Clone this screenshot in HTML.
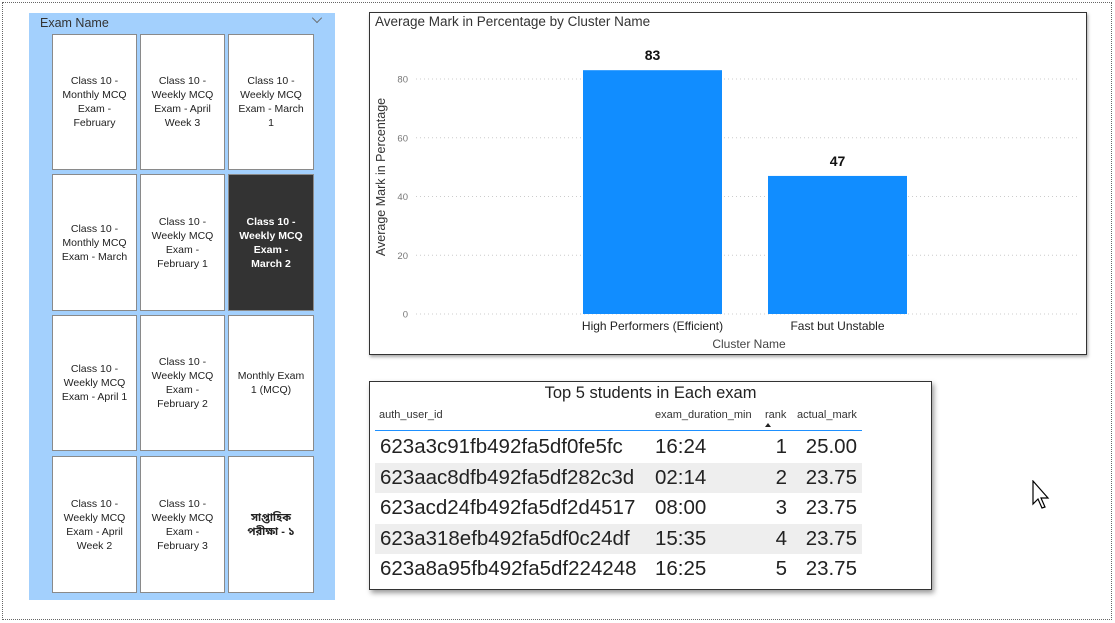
<!DOCTYPE html>
<html><head><meta charset="utf-8"><style>
*{box-sizing:border-box;margin:0;padding:0}
body{width:1115px;height:623px;background:#fff;position:relative;overflow:hidden;font-family:"Liberation Sans",sans-serif}
.abs{position:absolute}
.tile{position:absolute;background:#fff;border:1px solid #8a8a8a;display:flex;align-items:center;justify-content:center;text-align:center;font-size:10.5px;line-height:14px;color:#222;padding:0 8px}
.tile.sel{background:#333;color:#fff;font-weight:bold}
.row{position:absolute;left:375px;width:487px;height:30px;font-size:20.5px;color:#222}
.row span{position:absolute;top:3px}
</style></head><body>
<div class="abs" style="left:2px;top:2px;width:1110px;height:618px;border:1px dotted #666"></div>

<div class="abs" style="left:29px;top:13px;width:306px;height:587px;background:#a3d0fd"></div>
<div class="abs" style="left:40px;top:16px;font-size:12.5px;color:#333">Exam Name</div>
<div class="abs" style="left:313px;top:14px;width:8px;height:8px;border-right:1px solid #666;border-bottom:1px solid #666;transform:rotate(45deg) scale(0.9)"></div>
<div id="tiles"></div>

<div class="abs" style="left:369px;top:12px;width:718px;height:343px;border:1px solid #333;box-shadow:1px 2px 3px rgba(0,0,0,.35)"></div>
<div class="abs" style="left:375px;top:14px;font-size:13.5px;color:#333">Average Mark in Percentage by Cluster Name</div>
<svg class="abs" style="left:0;top:0" width="1115" height="623" id="chart"></svg>

<div class="abs" style="left:369px;top:381px;width:563px;height:209px;border:1px solid #333;box-shadow:2px 3px 5px rgba(0,0,0,.4);background:#fff"></div>
<div class="abs" style="left:369px;width:563px;top:384px;text-align:center;font-size:16.5px;color:#222">Top 5 students in Each exam</div>
<div class="abs" style="left:379px;top:409px;font-size:11px;color:#333">auth_user_id</div>
<div class="abs" style="left:655px;top:409px;font-size:11px;color:#333">exam_duration_min</div>
<div class="abs" style="left:765px;top:409px;font-size:11px;color:#333">rank</div>
<div class="abs" style="left:765px;top:423px;width:0;height:0;border-left:3px solid transparent;border-right:3px solid transparent;border-bottom:4px solid #222"></div>
<div class="abs" style="left:797px;top:409px;font-size:11px;color:#333">actual_mark</div>
<div class="abs" style="left:375px;top:430px;width:487px;height:1px;background:#1e90ff"></div>
<div id="rows"></div>

<svg class="abs" style="left:1032px;top:480px" width="20" height="30"><path d="M1 1 L1 24 L6 19 L10 28 L13 27 L9 18 L16 18 Z" fill="#fff" stroke="#000" stroke-width="1.2"/></svg>

<script>
const tileLabels=[
["Class 10 - Monthly MCQ Exam - February","Class 10 - Weekly MCQ Exam - April Week 3","Class 10 - Weekly MCQ Exam - March 1"],
["Class 10 - Monthly MCQ Exam - March","Class 10 - Weekly MCQ Exam - February 1","Class 10 - Weekly MCQ Exam - March 2"],
["Class 10 - Weekly MCQ Exam - April 1","Class 10 - Weekly MCQ Exam - February 2","Monthly Exam 1 (MCQ)"],
["Class 10 - Weekly MCQ Exam - April Week 2","Class 10 - Weekly MCQ Exam - February 3","সাপ্তাহিক পরীক্ষা - ১"]];
const colX=[52,140,228],colW=[85,85,86],rowY=[34,174,315,456],rowH=[136,137,136,137];
const tc=document.getElementById('tiles');
tileLabels.forEach((r,i)=>r.forEach((t,j)=>{
 const d=document.createElement('div');
 d.className='tile'+(i==1&&j==2?' sel':'');
 d.style.left=colX[j]+'px';d.style.top=rowY[i]+'px';d.style.width=colW[j]+'px';d.style.height=rowH[i]+'px';
 d.textContent=t;
 if(j==2&&i==3){d.style.fontFamily='"Liberation Sans","Noto Sans Bengali",sans-serif';d.style.fontWeight='bold';d.style.fontSize='11px';}
 
 
 tc.appendChild(d);
}));

const categories=["High Performers (Efficient)","Fast but Unstable"];
const values=[83,47];
const yTicks=[0,20,40,60,80];
const NS='http://www.w3.org/2000/svg';
const svg=document.getElementById('chart');
const y0=314,yUnit=235/80;
const y=v=>y0-v*yUnit;
const bandStart=[583,768],barW=139;
const x=i=>bandStart[0]+i*(bandStart[1]-bandStart[0]);
function el(tag,attrs,txt){const e=document.createElementNS(NS,tag);for(const k in attrs)e.setAttribute(k,attrs[k]);if(txt!=null)e.textContent=txt;svg.appendChild(e);return e;}
yTicks.forEach(t=>{
 const g=el('line',{x1:416,x2:1080,y1:y(t),y2:y(t),stroke:'#ccc','stroke-dasharray':'1 3'});
 
 
 const l=el('text',{x:408,y:y(t)+3.5,'text-anchor':'end','font-size':'9.5','fill':'#777'},t);
 
 
});
values.forEach((v,i)=>{
 const b=el('rect',{x:x(i),y:y(v),width:barW,height:y0-y(v),fill:'#118dff'});
 
 
 const lb=el('text',{x:x(i)+barW/2,y:y(v)-10,'text-anchor':'middle','font-size':'14','font-weight':'bold','fill':'#111'},Math.round(v));
 
 
 const c=el('text',{x:x(i)+barW/2,y:330,'text-anchor':'middle','font-size':'12','fill':'#222'},categories[i]);
 
 
});
const xt=el('text',{x:749,y:348,'text-anchor':'middle','font-size':'12','fill':'#444'},'Cluster Name');


const yt=el('text',{x:0,y:0,'text-anchor':'middle','font-size':'12.5','fill':'#333',transform:'translate(385,177) rotate(-90)'},'Average Mark in Percentage');



const ids=["623a3c91fb492fa5df0fe5fc","623aac8dfb492fa5df282c3d","623acd24fb492fa5df2d4517","623a318efb492fa5df0c24df","623a8a95fb492fa5df224248"];
const durations=["16:24","02:14","08:00","15:35","16:25"];
const ranks=[1,2,3,4,5];
const marks=["25.00","23.75","23.75","23.75","23.75"];
const rc=document.getElementById('rows');
ids.forEach((id,i)=>{
 const r=document.createElement('div');
 r.className='row';r.style.top=(432+i*30.6)+'px';
 if(i%2==1)r.style.background='#eee';
 r.innerHTML='<span style="left:5px">'+id+'</span><span style="left:280px">'+durations[i]+'</span><span style="right:75px">'+ranks[i]+'</span><span style="right:5px">'+marks[i]+'</span>';
 
 
 rc.appendChild(r);
});
</script>
</body></html>
